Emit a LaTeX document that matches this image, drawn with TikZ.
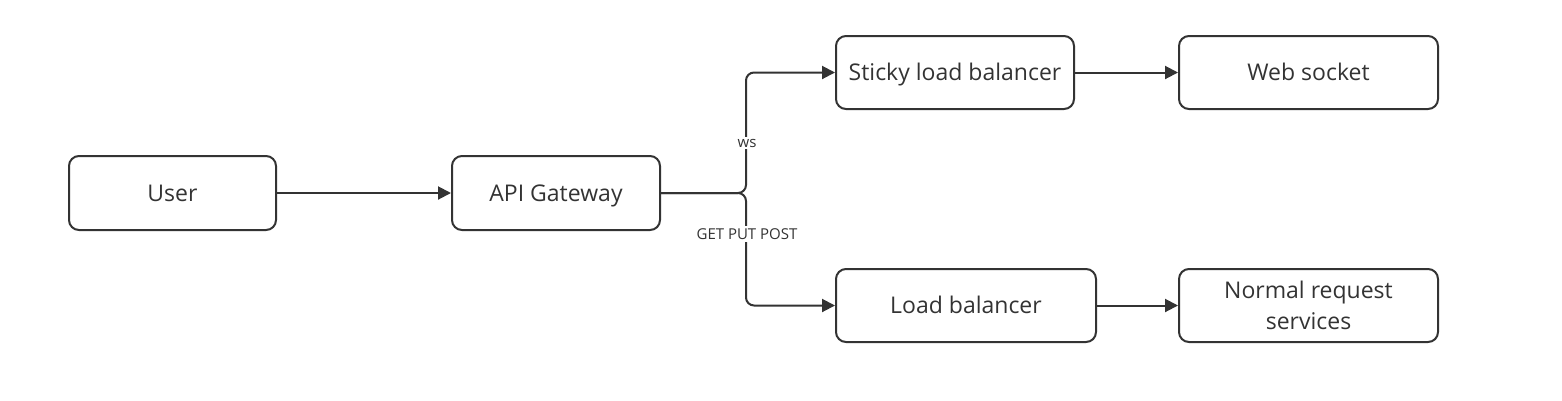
\documentclass[tikz,border=0pt]{standalone}
\usepackage{fontspec}
\setmainfont{Open Sans}
\usetikzlibrary{arrows.meta}
\definecolor{ink}{HTML}{333333}
\tikzset{
  box/.style={draw=ink, line width=2pt, rounded corners=10pt, inner sep=0pt, align=center, font=\fontsize{23}{31}\selectfont, text=ink},
  oneline/.style={text height=20pt, text depth=4pt},
  conn/.style={draw=ink, line width=2pt, -{Triangle[length=13pt,width=13pt]}},
  lbl/.style={fill=white, inner sep=2pt, font=\fontsize{15}{18}\selectfont, text=ink}
}
\begin{document}
\begin{tikzpicture}[x=1pt,y=-1pt]
\useasboundingbox (0,0) rectangle (1562,400);
\node[box, oneline, minimum width=207pt, minimum height=74pt] (user) at (172.5,193) {User};
\node[box, oneline, minimum width=208pt, minimum height=74pt] (api) at (556,193) {API Gateway};
\node[box, oneline, minimum width=238pt, minimum height=73pt] (sticky) at (955,72.5) {Sticky load balancer};
\node[box, oneline, minimum width=259pt, minimum height=73pt] (web) at (1308.5,72.5) {Web socket};
\node[box, oneline, minimum width=260pt, minimum height=73pt] (lb) at (966,305.5) {Load balancer};
\node[box, minimum width=259pt, minimum height=73pt] (normal) at (1308.5,305.5) {Normal request\\services};
\coordinate (split) at (746,193);
\draw[conn] (user.east) -- (api.west);
\draw[conn, rounded corners=8pt] (api.east) -- (split) |- (sticky.west);
\draw[conn, rounded corners=8pt] (api.east) -- (split) |- (lb.west);
\draw[conn] (sticky.east) -- (web.west);
\draw[conn] (lb.east) -- (normal.west);
\node[lbl] (ws) at (747,143) {ws};
\node[lbl] (gpp) at (747,234) {GET PUT POST};
\end{tikzpicture}
\end{document}
